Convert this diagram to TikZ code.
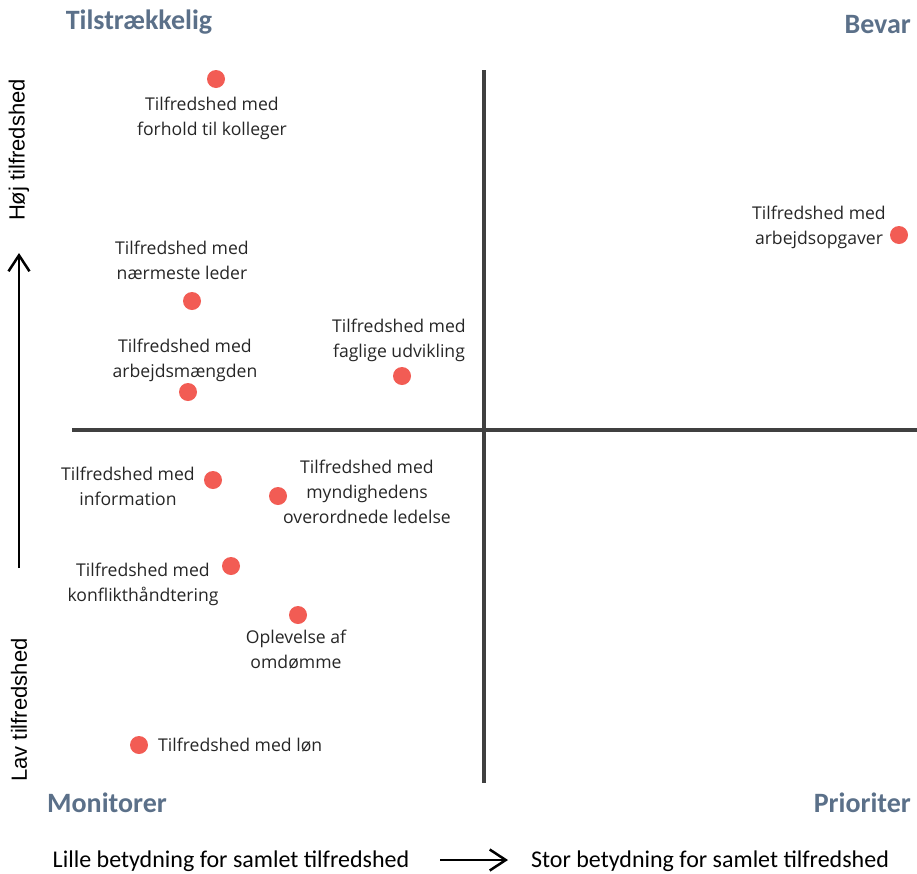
\documentclass[tikz,border=0pt]{standalone}
\usepackage{fontspec}
\setmainfont{Open Sans}
\newfontfamily\hdrfont{Carlito}
\newfontfamily\axfont{Carlito}
\newfontfamily\sidefont{Liberation Sans}
\usetikzlibrary{arrows.meta}
\definecolor{dotred}{HTML}{F25C54}
\definecolor{hdrblue}{HTML}{5B7089}
\definecolor{axisgray}{HTML}{404040}
\tikzset{
  dot/.style={circle,fill=dotred,inner sep=0pt,minimum size=18pt},
  lbl/.style={align=center,inner sep=0pt,font=\fontsize{17.6}{25}\selectfont,text=black!85},
  hdr/.style={inner sep=0pt,font=\hdrfont\bfseries\fontsize{28}{32}\selectfont,text=hdrblue},
  axisline/.style={draw=axisgray,line width=4pt},
  side/.style={inner sep=0pt,rotate=90,font=\sidefont\fontsize{22}{26}\selectfont},
  bottom/.style={inner sep=0pt,font=\axfont\fontsize{24}{28}\selectfont},
  arr/.style={-{Straight Barb[length=16pt,width=21pt,line width=2.5pt]},line width=2.5pt}
}
\begin{document}
\begin{tikzpicture}[x=1pt,y=-1pt]
\useasboundingbox (0,0) rectangle (917,873);
% axes
\coordinate (vtop) at (484,70);
\coordinate (vbot) at (484,783);
\coordinate (hl) at (72,430);
\coordinate (hr) at (917,430);
\draw[axisline] (vtop) -- (vbot);
\draw[axisline] (hl) -- (hr);
% headers
\node[hdr] (h1) at (139,22) {Tilstrækkelig};
\node[hdr,anchor=east] (h2) at (911,25) {Bevar};
\node[hdr] (h3) at (107,803) {Monitorer};
\node[hdr,anchor=east] (h4) at (911,803) {Prioriter};
% side
\node[side] (hoj) at (19,150) {Høj tilfredshed};
\node[side] (lav) at (19,710) {Lav tilfredshed};
\coordinate (va) at (19,568);
\coordinate (vb) at (19,253);
\draw[arr] (va) -- (vb);
% bottom
\node[bottom] (lille) at (231,861) {Lille betydning for samlet tilfredshed};
\node[bottom] (stor) at (710,861) {Stor betydning for samlet tilfredshed};
\coordinate (ba) at (440,860);
\coordinate (bb) at (508,860);
\draw[arr] (ba) -- (bb);
% dots and labels
\node[dot] (d1) at (216,79) {};
\node[lbl] (l1) at (212,118) {Tilfredshed med\\forhold til kolleger};
\node[dot] (d2) at (899,235) {};
\node[lbl] (l2) at (819,227) {Tilfredshed med\\arbejdsopgaver};
\node[dot] (d3) at (192,301) {};
\node[lbl] (l3) at (182,260) {Tilfredshed med\\nærmeste leder};
\node[dot] (d4) at (188,392) {};
\node[lbl] (l4) at (185,360) {Tilfredshed med\\arbejdsmængden};
\node[dot] (d5) at (402,376) {};
\node[lbl] (l5) at (399,340) {Tilfredshed med\\faglige udvikling};
\node[dot] (d6) at (213,480) {};
\node[lbl] (l6) at (128,486) {Tilfredshed med\\information};
\node[dot] (d7) at (278,496) {};
\node[lbl] (l7) at (367,492) {Tilfredshed med\\myndighedens\\overordnede ledelse};
\node[dot] (d8) at (231,566) {};
\node[lbl] (l8) at (143,584) {Tilfredshed med\\konflikthåndtering};
\node[dot] (d9) at (298,615) {};
\node[lbl] (l9) at (296,650) {Oplevelse af\\omdømme};
\node[dot] (d10) at (139,745) {};
\node[lbl,anchor=west] (l10) at (158,745) {Tilfredshed med løn};
\end{tikzpicture}
\end{document}
